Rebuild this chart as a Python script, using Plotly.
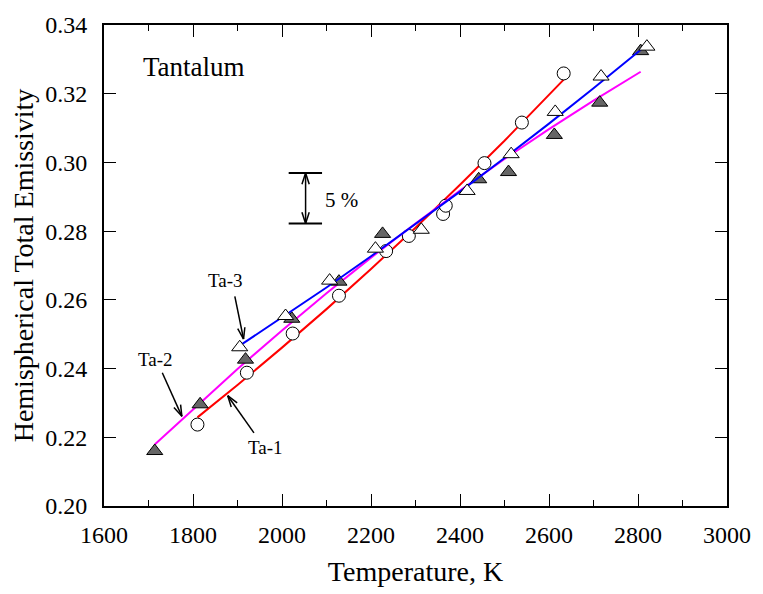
import math
import plotly.graph_objects as go

# ---------------- data ----------------
ta1_T = [1810, 1921, 2024, 2128, 2234, 2285, 2362, 2368, 2455, 2539, 2633]
ta1_e = [0.2237, 0.2388, 0.2502, 0.2612, 0.2742, 0.2786, 0.2850, 0.2874, 0.2998, 0.3116, 0.3259]

ta2_T = [1714, 1816, 1918, 2022, 2128, 2226, 2442, 2509, 2612, 2714, 2806]
ta2_e = [0.2160, 0.2296, 0.2426, 0.2545, 0.2653, 0.2792, 0.2951, 0.2972, 0.3080, 0.3174, 0.3324]

ta3_T = [1905, 2008, 2107, 2210, 2313, 2416, 2515, 2614, 2717, 2820]
ta3_e = [0.2462, 0.2553, 0.2656, 0.2749, 0.2804, 0.2917, 0.3024, 0.3147, 0.3250, 0.3337]

# fitted curves at regular temperatures
fit1_T = [1810, 1900, 2000, 2100, 2200, 2300, 2400, 2500, 2633]
fit1_e = [0.2258, 0.2352, 0.2461, 0.2573, 0.2690, 0.2810, 0.2935, 0.3063, 0.3241]
fit2_T = [1714, 1800, 1900, 2000, 2100, 2200, 2300, 2400, 2500, 2600, 2700, 2806]
fit2_e = [0.2179, 0.2282, 0.2399, 0.2511, 0.2619, 0.2723, 0.2822, 0.2918, 0.3010, 0.3097, 0.3180, 0.3264]
fit3_T = [1910, 2000, 2100, 2200, 2300, 2400, 2500, 2600, 2700, 2809]
fit3_e = [0.2471, 0.2548, 0.2636, 0.2727, 0.2820, 0.2915, 0.3013, 0.3113, 0.3216, 0.3331]

x_range = [1600, 3000]
y_range = [0.20, 0.34]
x_ticks = [1600, 1800, 2000, 2200, 2400, 2600, 2800, 3000]
y_ticks = [0.20, 0.22, 0.24, 0.26, 0.28, 0.30, 0.32, 0.34]

# ---------------- layout constants ----------------
W, H = 763, 594
ML, MR, MT, MB = 104, 25, 22, 85
sx = (W - ML - MR) / (x_range[1] - x_range[0])
sy = (H - MT - MB) / (y_range[1] - y_range[0])

FONT = "Liberation Serif"

fig = go.Figure()

def add_series(T, e, fT, fe, lcolor, symbol, fill, size):
    fig.add_trace(go.Scatter(x=fT, y=fe, mode="lines", line=dict(color=lcolor, width=2),
                             hoverinfo="skip", showlegend=False))
    fig.add_trace(go.Scatter(x=T, y=e, mode="markers",
                             marker=dict(symbol=symbol, size=size, color=fill,
                                         line=dict(color="black", width=1)),
                             showlegend=False))

add_series(ta1_T, ta1_e, fit1_T, fit1_e, "#ff0000", "circle", "white", 13)
add_series(ta2_T, ta2_e, fit2_T, fit2_e, "#ff00ff", "triangle-up", "#666666", 14)
add_series(ta3_T, ta3_e, fit3_T, fit3_e, "#0000ff", "triangle-up", "white", 14)

shapes = []

def seg(x0, y0, x1, y1, w=1.5):
    shapes.append(dict(type="line", x0=x0, y0=y0, x1=x1, y1=y1, xref="x", yref="y",
                       line=dict(color="black", width=w)))

def head(x0, y0, x1, y1, length=12, ang=18):
    dxp = (x1 - x0) * sx
    dyp = -(y1 - y0) * sy
    n = math.hypot(dxp, dyp)
    ux, uy = -dxp / n, -dyp / n
    for s in (1, -1):
        a = math.radians(ang * s)
        rx = ux * math.cos(a) - uy * math.sin(a)
        ry = ux * math.sin(a) + uy * math.cos(a)
        seg(x1, y1, x1 + rx * length / sx, y1 - ry * length / sy)

def arrow(x0, y0, x1, y1):
    seg(x0, y0, x1, y1)
    head(x0, y0, x1, y1)

# label arrows
arrow(1894, 0.2610, 1913.6, 0.2486)   # Ta-3
arrow(1731, 0.2388, 1775, 0.2261)     # Ta-2
arrow(1937, 0.2213, 1878, 0.2321)     # Ta-1

# 5 % double arrow
xb, y_lo, y_hi = 2053, 0.2822, 0.2969
seg(2015, y_hi, 2090, y_hi, 2)
seg(2015, y_lo, 2090, y_lo, 2)
seg(xb, y_lo, xb, y_hi)
head(xb, y_lo, xb, y_hi)
head(xb, y_hi, xb, y_lo)

annotations = [
    dict(x=1802, y=0.3279, text="Tantalum", font=dict(size=27)),
    dict(x=2133, y=0.2891, text="5 %", font=dict(size=21)),
    dict(x=1874, y=0.2655, text="Ta-3", font=dict(size=19)),
    dict(x=1715, y=0.2425, text="Ta-2", font=dict(size=19)),
    dict(x=1962, y=0.2170, text="Ta-1", font=dict(size=19)),
]
for a in annotations:
    a.update(xref="x", yref="y", showarrow=False)
    a["font"].update(family=FONT, color="black")

axis_common = dict(showgrid=False, zeroline=False, showline=True, linecolor="black", linewidth=2,
                   mirror="allticks", ticks="inside", ticklen=12, tickwidth=1.3, tickcolor="black",
                   tickfont=dict(family=FONT, size=24, color="black"))

fig.update_layout(
    width=W, height=H,
    font=dict(family=FONT, color="black"),
    margin=dict(l=ML, r=MR, t=MT, b=MB, pad=0),
    paper_bgcolor="white", plot_bgcolor="white",
    shapes=shapes, annotations=annotations,
    xaxis=dict(range=x_range, tickvals=x_ticks, ticktext=[str(v) for v in x_ticks],
               minor=dict(dtick=100, ticks="inside", ticklen=6, tickwidth=1.3, tickcolor="black"),
               title=dict(text="Temperature, K", font=dict(family=FONT, size=28, color="black"), standoff=15),
               ticklabelstandoff=6, **axis_common),
    yaxis=dict(range=y_range, tickvals=y_ticks, ticktext=[f"{v:.2f}" for v in y_ticks],
               title=dict(text="Hemispherical Total Emissivity", font=dict(family=FONT, size=28, color="black"), standoff=3),
               ticklabelstandoff=10, **axis_common),
)

fig.write_html("out.html")
